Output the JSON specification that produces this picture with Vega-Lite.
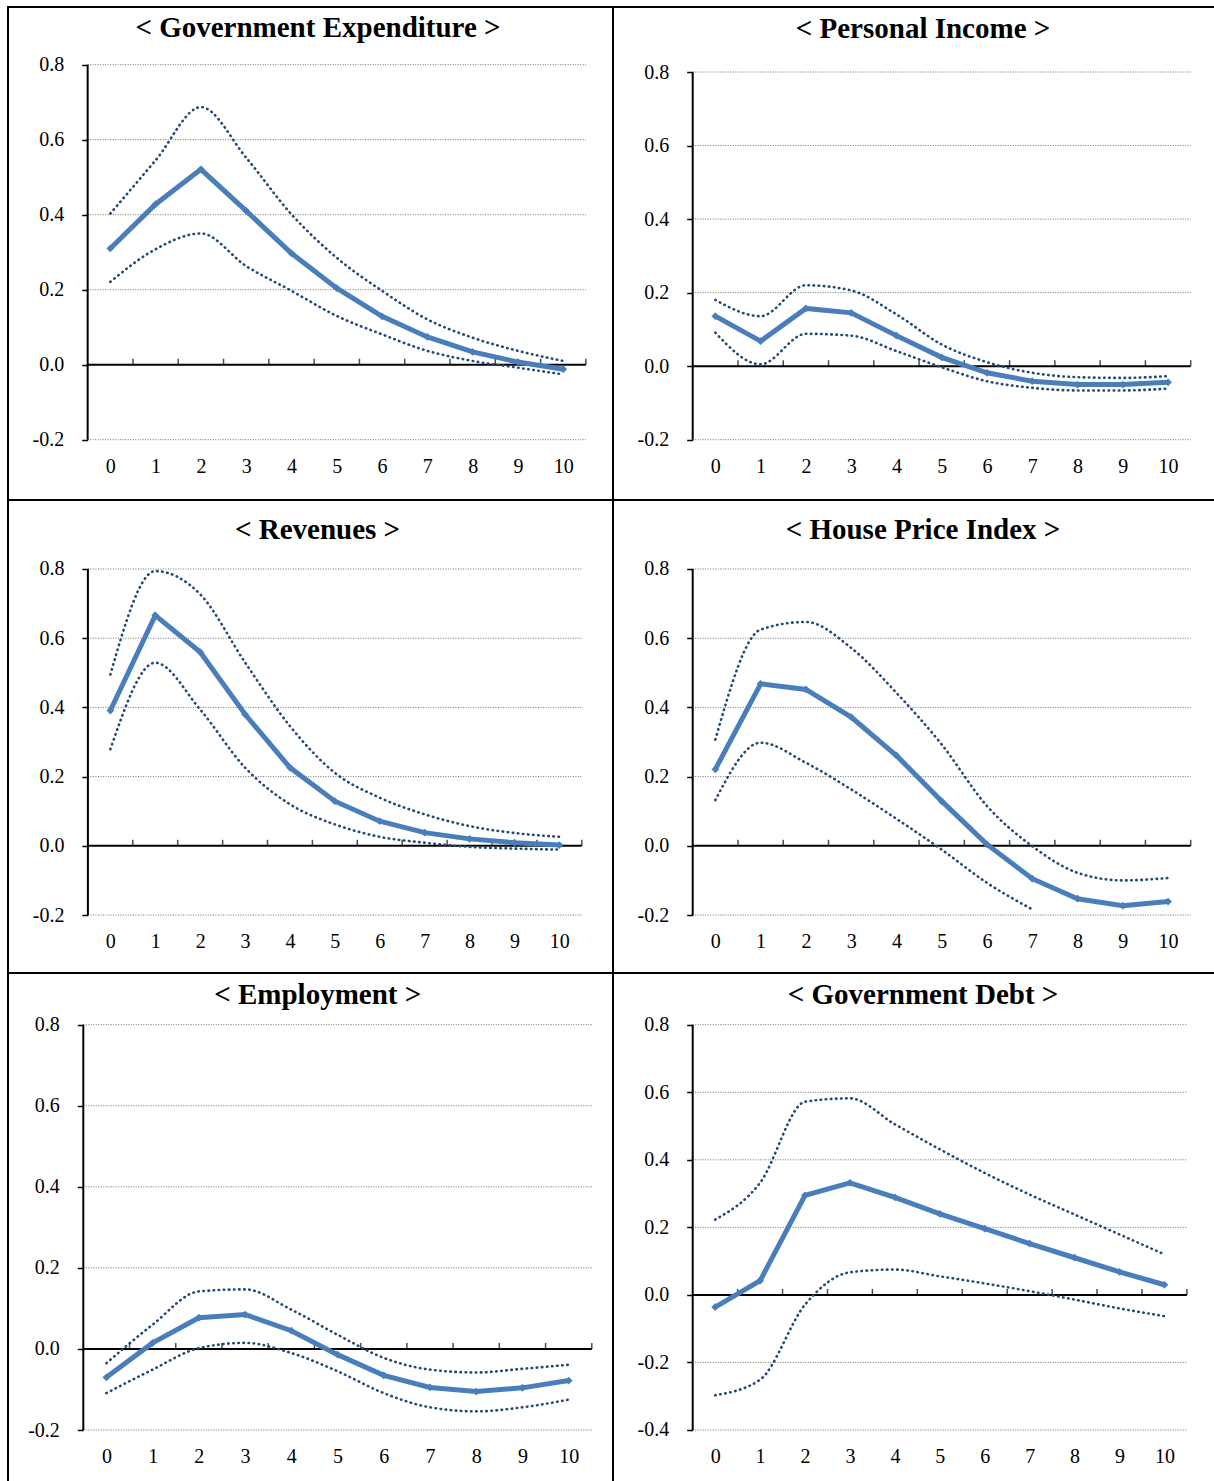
{
  "$schema": "https://vega.github.io/schema/vega-lite/v6.json",
  "padding": {"left": 7, "top": 6, "right": 0, "bottom": 0},
  "autosize": {"type": "pad"},
  "bounds": "flush",
  "spacing": 0,
  "columns": 2,
  "datasets": {
    "grid": [{"g": -0.4}, {"g": -0.2}, {"g": 0.2}, {"g": 0.4}, {"g": 0.6}, {"g": 0.8}],
    "bnd": [{"b": 0.5}, {"b": 1.5}, {"b": 2.5}, {"b": 3.5}, {"b": 4.5}, {"b": 5.5}, {"b": 6.5}, {"b": 7.5}, {"b": 8.5}, {"b": 9.5}, {"b": 10.5}],
    "irf": [
      {"p": "ge", "h": 0, "resp": 0.310, "lo": 0.221, "hi": 0.403},
      {"p": "ge", "h": 1, "resp": 0.428, "lo": 0.308, "hi": 0.545},
      {"p": "ge", "h": 2, "resp": 0.521, "lo": 0.350, "hi": 0.687},
      {"p": "ge", "h": 3, "resp": 0.410, "lo": 0.263, "hi": 0.552},
      {"p": "ge", "h": 4, "resp": 0.297, "lo": 0.197, "hi": 0.401},
      {"p": "ge", "h": 5, "resp": 0.204, "lo": 0.130, "hi": 0.285},
      {"p": "ge", "h": 6, "resp": 0.129, "lo": 0.081, "hi": 0.197},
      {"p": "ge", "h": 7, "resp": 0.074, "lo": 0.037, "hi": 0.121},
      {"p": "ge", "h": 8, "resp": 0.034, "lo": 0.010, "hi": 0.072},
      {"p": "ge", "h": 9, "resp": 0.007, "lo": -0.008, "hi": 0.037},
      {"p": "ge", "h": 10, "resp": -0.012, "lo": -0.026, "hi": 0.010},
      {"p": "pi", "h": 0, "resp": 0.136, "lo": 0.091, "hi": 0.180},
      {"p": "pi", "h": 1, "resp": 0.068, "lo": 0.005, "hi": 0.136},
      {"p": "pi", "h": 2, "resp": 0.157, "lo": 0.088, "hi": 0.220},
      {"p": "pi", "h": 3, "resp": 0.145, "lo": 0.083, "hi": 0.206},
      {"p": "pi", "h": 4, "resp": 0.083, "lo": 0.041, "hi": 0.141},
      {"p": "pi", "h": 5, "resp": 0.024, "lo": -0.003, "hi": 0.059},
      {"p": "pi", "h": 6, "resp": -0.018, "lo": -0.041, "hi": 0.011},
      {"p": "pi", "h": 7, "resp": -0.041, "lo": -0.059, "hi": -0.018},
      {"p": "pi", "h": 8, "resp": -0.050, "lo": -0.066, "hi": -0.030},
      {"p": "pi", "h": 9, "resp": -0.050, "lo": -0.066, "hi": -0.032},
      {"p": "pi", "h": 10, "resp": -0.044, "lo": -0.061, "hi": -0.027},
      {"p": "rev", "h": 0, "resp": 0.391, "lo": 0.279, "hi": 0.495},
      {"p": "rev", "h": 1, "resp": 0.666, "lo": 0.529, "hi": 0.794},
      {"p": "rev", "h": 2, "resp": 0.560, "lo": 0.394, "hi": 0.727},
      {"p": "rev", "h": 3, "resp": 0.380, "lo": 0.226, "hi": 0.530},
      {"p": "rev", "h": 4, "resp": 0.226, "lo": 0.120, "hi": 0.346},
      {"p": "rev", "h": 5, "resp": 0.129, "lo": 0.062, "hi": 0.211},
      {"p": "rev", "h": 6, "resp": 0.071, "lo": 0.026, "hi": 0.139},
      {"p": "rev", "h": 7, "resp": 0.038, "lo": 0.009, "hi": 0.091},
      {"p": "rev", "h": 8, "resp": 0.020, "lo": -0.003, "hi": 0.057},
      {"p": "rev", "h": 9, "resp": 0.009, "lo": -0.008, "hi": 0.037},
      {"p": "rev", "h": 10, "resp": 0.002, "lo": -0.011, "hi": 0.026},
      {"p": "hpi", "h": 0, "resp": 0.221, "lo": 0.132, "hi": 0.307},
      {"p": "hpi", "h": 1, "resp": 0.468, "lo": 0.298, "hi": 0.625},
      {"p": "hpi", "h": 2, "resp": 0.452, "lo": 0.240, "hi": 0.647},
      {"p": "hpi", "h": 3, "resp": 0.372, "lo": 0.163, "hi": 0.572},
      {"p": "hpi", "h": 4, "resp": 0.261, "lo": 0.078, "hi": 0.442},
      {"p": "hpi", "h": 5, "resp": 0.129, "lo": -0.011, "hi": 0.293},
      {"p": "hpi", "h": 6, "resp": 0.004, "lo": -0.107, "hi": 0.115},
      {"p": "hpi", "h": 7, "resp": -0.095, "lo": -0.184, "hi": -0.001},
      {"p": "hpi", "h": 8, "resp": -0.153, "lo": null, "hi": -0.078},
      {"p": "hpi", "h": 9, "resp": -0.173, "lo": null, "hi": -0.100},
      {"p": "hpi", "h": 10, "resp": -0.161, "lo": null, "hi": -0.093},
      {"p": "emp", "h": 0, "resp": -0.070, "lo": -0.109, "hi": -0.035},
      {"p": "emp", "h": 1, "resp": 0.015, "lo": -0.051, "hi": 0.060},
      {"p": "emp", "h": 2, "resp": 0.077, "lo": 0.002, "hi": 0.142},
      {"p": "emp", "h": 3, "resp": 0.085, "lo": 0.015, "hi": 0.147},
      {"p": "emp", "h": 4, "resp": 0.045, "lo": -0.010, "hi": 0.097},
      {"p": "emp", "h": 5, "resp": -0.014, "lo": -0.055, "hi": 0.035},
      {"p": "emp", "h": 6, "resp": -0.065, "lo": -0.109, "hi": -0.022},
      {"p": "emp", "h": 7, "resp": -0.095, "lo": -0.144, "hi": -0.051},
      {"p": "emp", "h": 8, "resp": -0.105, "lo": -0.154, "hi": -0.058},
      {"p": "emp", "h": 9, "resp": -0.096, "lo": -0.144, "hi": -0.049},
      {"p": "emp", "h": 10, "resp": -0.078, "lo": -0.125, "hi": -0.039},
      {"p": "debt", "h": 0, "resp": -0.036, "lo": -0.297, "hi": 0.223},
      {"p": "debt", "h": 1, "resp": 0.042, "lo": -0.251, "hi": 0.332},
      {"p": "debt", "h": 2, "resp": 0.295, "lo": -0.029, "hi": 0.572},
      {"p": "debt", "h": 3, "resp": 0.332, "lo": 0.067, "hi": 0.582},
      {"p": "debt", "h": 4, "resp": 0.289, "lo": 0.075, "hi": 0.505},
      {"p": "debt", "h": 5, "resp": 0.240, "lo": 0.055, "hi": 0.431},
      {"p": "debt", "h": 6, "resp": 0.196, "lo": 0.034, "hi": 0.361},
      {"p": "debt", "h": 7, "resp": 0.152, "lo": 0.011, "hi": 0.297},
      {"p": "debt", "h": 8, "resp": 0.110, "lo": -0.014, "hi": 0.238},
      {"p": "debt", "h": 9, "resp": 0.068, "lo": -0.040, "hi": 0.179},
      {"p": "debt", "h": 10, "resp": 0.030, "lo": -0.063, "hi": 0.120}
    ]
  },
  "concat": [
    {
      "width": 605, "height": 493,
      "title": {"text": "< Government Expenditure >", "dx": 7.5, "offset": -36.2},
      "layer": [
        {"data": {"name": "grid"}, "transform": [{"filter": "datum.g >= -0.2"}],
         "mark": {"type": "rule", "color": "#6e6e6e", "strokeWidth": 1, "strokeDash": [1, 1.5]},
         "encoding": {
           "x": {"datum": -0.5, "type": "quantitative", "scale": {"domain": [-2.2585, 11.0983], "nice": false, "zero": false}, "axis": {"values": [0,1,2,3,4,5,6,7,8,9,10], "format": "d", "offset": -34, "title": null}},
           "x2": {"datum": 10.5},
           "y": {"field": "g", "type": "quantitative", "scale": {"domain": [-0.3608, 0.9539], "nice": false, "zero": false}, "axis": {"values": [-0.2,0,0.2,0.4,0.6,0.8], "offset": -79.65, "title": null, "labelExpr": "datum.value < 0 ? '-' + format(-datum.value, '.1f') : format(datum.value, '.1f')"}}
         }},
        {"data": {"values": [{}]}, "mark": {"type": "rule", "color": "black", "strokeWidth": 2},
         "encoding": {
           "x": {"datum": -0.5, "type": "quantitative", "scale": {"domain": [-2.2585, 11.0983], "nice": false, "zero": false}, "axis": {"values": [0,1,2,3,4,5,6,7,8,9,10], "format": "d", "offset": -34, "title": null}},
           "y": {"datum": -0.2, "type": "quantitative", "scale": {"domain": [-0.3608, 0.9539], "nice": false, "zero": false}, "axis": {"values": [-0.2,0,0.2,0.4,0.6,0.8], "offset": -79.65, "title": null, "labelExpr": "datum.value < 0 ? '-' + format(-datum.value, '.1f') : format(datum.value, '.1f')"}},
           "y2": {"datum": 0.8}
         }},
        {"data": {"values": [{}]}, "mark": {"type": "rule", "color": "black", "strokeWidth": 2},
         "encoding": {
           "x": {"datum": -0.5, "type": "quantitative", "scale": {"domain": [-2.2585, 11.0983], "nice": false, "zero": false}, "axis": {"values": [0,1,2,3,4,5,6,7,8,9,10], "format": "d", "offset": -34, "title": null}},
           "x2": {"datum": 10.5},
           "y": {"datum": 0, "type": "quantitative", "scale": {"domain": [-0.3608, 0.9539], "nice": false, "zero": false}, "axis": {"values": [-0.2,0,0.2,0.4,0.6,0.8], "offset": -79.65, "title": null, "labelExpr": "datum.value < 0 ? '-' + format(-datum.value, '.1f') : format(datum.value, '.1f')"}}
         }},
        {"data": {"name": "bnd"}, "mark": {"type": "tick", "orient": "vertical", "color": "black", "size": 6, "thickness": 1.5, "yOffset": -3},
         "encoding": {
           "x": {"field": "b", "type": "quantitative", "scale": {"domain": [-2.2585, 11.0983], "nice": false, "zero": false}, "axis": {"values": [0,1,2,3,4,5,6,7,8,9,10], "format": "d", "offset": -34, "title": null}},
           "y": {"datum": 0, "type": "quantitative", "scale": {"domain": [-0.3608, 0.9539], "nice": false, "zero": false}, "axis": {"values": [-0.2,0,0.2,0.4,0.6,0.8], "offset": -79.65, "title": null, "labelExpr": "datum.value < 0 ? '-' + format(-datum.value, '.1f') : format(datum.value, '.1f')"}}
         }},
        {"data": {"name": "irf"}, "transform": [{"filter": "datum.p == 'ge'"}],
         "mark": {"type": "line", "color": "#23487A", "strokeWidth": 2.6, "strokeDash": [0.5, 4.6], "strokeCap": "round", "interpolate": "monotone"},
         "encoding": {
           "x": {"field": "h", "type": "quantitative", "scale": {"domain": [-2.2585, 11.0983], "nice": false, "zero": false}, "axis": {"values": [0,1,2,3,4,5,6,7,8,9,10], "format": "d", "offset": -34, "title": null}},
           "y": {"field": "hi", "type": "quantitative", "scale": {"domain": [-0.3608, 0.9539], "nice": false, "zero": false}, "axis": {"values": [-0.2,0,0.2,0.4,0.6,0.8], "offset": -79.65, "title": null, "labelExpr": "datum.value < 0 ? '-' + format(-datum.value, '.1f') : format(datum.value, '.1f')"}}
         }},
        {"data": {"name": "irf"}, "transform": [{"filter": "datum.p == 'ge'"}],
         "mark": {"type": "line", "color": "#23487A", "strokeWidth": 2.6, "strokeDash": [0.5, 4.6], "strokeCap": "round", "interpolate": "monotone"},
         "encoding": {
           "x": {"field": "h", "type": "quantitative", "scale": {"domain": [-2.2585, 11.0983], "nice": false, "zero": false}, "axis": {"values": [0,1,2,3,4,5,6,7,8,9,10], "format": "d", "offset": -34, "title": null}},
           "y": {"field": "lo", "type": "quantitative", "scale": {"domain": [-0.3608, 0.9539], "nice": false, "zero": false}, "axis": {"values": [-0.2,0,0.2,0.4,0.6,0.8], "offset": -79.65, "title": null, "labelExpr": "datum.value < 0 ? '-' + format(-datum.value, '.1f') : format(datum.value, '.1f')"}}
         }},
        {"data": {"name": "irf"}, "transform": [{"filter": "datum.p == 'ge'"}],
         "mark": {"type": "line", "color": "#4A7EBB", "strokeWidth": 5, "point": {"shape": "diamond", "size": 60, "filled": true, "color": "#4A7EBB"}},
         "encoding": {
           "x": {"field": "h", "type": "quantitative", "scale": {"domain": [-2.2585, 11.0983], "nice": false, "zero": false}, "axis": {"values": [0,1,2,3,4,5,6,7,8,9,10], "format": "d", "offset": -34, "title": null}},
           "y": {"field": "resp", "type": "quantitative", "scale": {"domain": [-0.3608, 0.9539], "nice": false, "zero": false}, "axis": {"values": [-0.2,0,0.2,0.4,0.6,0.8], "offset": -79.65, "title": null, "labelExpr": "datum.value < 0 ? '-' + format(-datum.value, '.1f') : format(datum.value, '.1f')"}}
         }}
      ]
    },
    {
      "width": 605, "height": 493,
      "title": {"text": "< Personal Income >", "dx": 7.5, "offset": -36.5},
      "layer": [
        {"data": {"name": "grid"}, "transform": [{"filter": "datum.g >= -0.2"}],
         "mark": {"type": "rule", "color": "#6e6e6e", "strokeWidth": 1, "strokeDash": [1, 1.5]},
         "encoding": {
           "x": {"datum": -0.5, "type": "quantitative", "scale": {"domain": [-2.2604, 11.103], "nice": false, "zero": false}, "axis": {"values": [0,1,2,3,4,5,6,7,8,9,10], "format": "d", "offset": -34, "title": null}},
           "x2": {"datum": 10.5},
           "y": {"field": "g", "type": "quantitative", "scale": {"domain": [-0.364, 0.9768], "nice": false, "zero": false}, "axis": {"values": [-0.2,0,0.2,0.4,0.6,0.8], "offset": -79.7, "title": null, "labelExpr": "datum.value < 0 ? '-' + format(-datum.value, '.1f') : format(datum.value, '.1f')"}}
         }},
        {"data": {"values": [{}]}, "mark": {"type": "rule", "color": "black", "strokeWidth": 2},
         "encoding": {
           "x": {"datum": -0.5, "type": "quantitative", "scale": {"domain": [-2.2604, 11.103], "nice": false, "zero": false}, "axis": {"values": [0,1,2,3,4,5,6,7,8,9,10], "format": "d", "offset": -34, "title": null}},
           "y": {"datum": -0.2, "type": "quantitative", "scale": {"domain": [-0.364, 0.9768], "nice": false, "zero": false}, "axis": {"values": [-0.2,0,0.2,0.4,0.6,0.8], "offset": -79.7, "title": null, "labelExpr": "datum.value < 0 ? '-' + format(-datum.value, '.1f') : format(datum.value, '.1f')"}},
           "y2": {"datum": 0.8}
         }},
        {"data": {"values": [{}]}, "mark": {"type": "rule", "color": "black", "strokeWidth": 2},
         "encoding": {
           "x": {"datum": -0.5, "type": "quantitative", "scale": {"domain": [-2.2604, 11.103], "nice": false, "zero": false}, "axis": {"values": [0,1,2,3,4,5,6,7,8,9,10], "format": "d", "offset": -34, "title": null}},
           "x2": {"datum": 10.5},
           "y": {"datum": 0, "type": "quantitative", "scale": {"domain": [-0.364, 0.9768], "nice": false, "zero": false}, "axis": {"values": [-0.2,0,0.2,0.4,0.6,0.8], "offset": -79.7, "title": null, "labelExpr": "datum.value < 0 ? '-' + format(-datum.value, '.1f') : format(datum.value, '.1f')"}}
         }},
        {"data": {"name": "bnd"}, "mark": {"type": "tick", "orient": "vertical", "color": "black", "size": 6, "thickness": 1.5, "yOffset": -3},
         "encoding": {
           "x": {"field": "b", "type": "quantitative", "scale": {"domain": [-2.2604, 11.103], "nice": false, "zero": false}, "axis": {"values": [0,1,2,3,4,5,6,7,8,9,10], "format": "d", "offset": -34, "title": null}},
           "y": {"datum": 0, "type": "quantitative", "scale": {"domain": [-0.364, 0.9768], "nice": false, "zero": false}, "axis": {"values": [-0.2,0,0.2,0.4,0.6,0.8], "offset": -79.7, "title": null, "labelExpr": "datum.value < 0 ? '-' + format(-datum.value, '.1f') : format(datum.value, '.1f')"}}
         }},
        {"data": {"name": "irf"}, "transform": [{"filter": "datum.p == 'pi'"}],
         "mark": {"type": "line", "color": "#23487A", "strokeWidth": 2.6, "strokeDash": [0.5, 4.6], "strokeCap": "round", "interpolate": "monotone"},
         "encoding": {
           "x": {"field": "h", "type": "quantitative", "scale": {"domain": [-2.2604, 11.103], "nice": false, "zero": false}, "axis": {"values": [0,1,2,3,4,5,6,7,8,9,10], "format": "d", "offset": -34, "title": null}},
           "y": {"field": "hi", "type": "quantitative", "scale": {"domain": [-0.364, 0.9768], "nice": false, "zero": false}, "axis": {"values": [-0.2,0,0.2,0.4,0.6,0.8], "offset": -79.7, "title": null, "labelExpr": "datum.value < 0 ? '-' + format(-datum.value, '.1f') : format(datum.value, '.1f')"}}
         }},
        {"data": {"name": "irf"}, "transform": [{"filter": "datum.p == 'pi'"}],
         "mark": {"type": "line", "color": "#23487A", "strokeWidth": 2.6, "strokeDash": [0.5, 4.6], "strokeCap": "round", "interpolate": "monotone"},
         "encoding": {
           "x": {"field": "h", "type": "quantitative", "scale": {"domain": [-2.2604, 11.103], "nice": false, "zero": false}, "axis": {"values": [0,1,2,3,4,5,6,7,8,9,10], "format": "d", "offset": -34, "title": null}},
           "y": {"field": "lo", "type": "quantitative", "scale": {"domain": [-0.364, 0.9768], "nice": false, "zero": false}, "axis": {"values": [-0.2,0,0.2,0.4,0.6,0.8], "offset": -79.7, "title": null, "labelExpr": "datum.value < 0 ? '-' + format(-datum.value, '.1f') : format(datum.value, '.1f')"}}
         }},
        {"data": {"name": "irf"}, "transform": [{"filter": "datum.p == 'pi'"}],
         "mark": {"type": "line", "color": "#4A7EBB", "strokeWidth": 5, "point": {"shape": "diamond", "size": 60, "filled": true, "color": "#4A7EBB"}},
         "encoding": {
           "x": {"field": "h", "type": "quantitative", "scale": {"domain": [-2.2604, 11.103], "nice": false, "zero": false}, "axis": {"values": [0,1,2,3,4,5,6,7,8,9,10], "format": "d", "offset": -34, "title": null}},
           "y": {"field": "resp", "type": "quantitative", "scale": {"domain": [-0.364, 0.9768], "nice": false, "zero": false}, "axis": {"values": [-0.2,0,0.2,0.4,0.6,0.8], "offset": -79.7, "title": null, "labelExpr": "datum.value < 0 ? '-' + format(-datum.value, '.1f') : format(datum.value, '.1f')"}}
         }}
      ]
    },
    {
      "width": 605, "height": 473,
      "title": {"text": "< Revenues >", "dx": 7, "offset": -44.5},
      "layer": [
        {"data": {"name": "grid"}, "transform": [{"filter": "datum.g >= -0.2"}],
         "mark": {"type": "rule", "color": "#6e6e6e", "strokeWidth": 1, "strokeDash": [1, 1.5]},
         "encoding": {
           "x": {"datum": -0.5, "type": "quantitative", "scale": {"domain": [-2.2795, 11.1949], "nice": false, "zero": false}, "axis": {"values": [0,1,2,3,4,5,6,7,8,9,10], "format": "d", "offset": -32, "title": null}},
           "x2": {"datum": 10.5},
           "y": {"field": "g", "type": "quantitative", "scale": {"domain": [-0.3676, 0.9994], "nice": false, "zero": false}, "axis": {"values": [-0.2,0,0.2,0.4,0.6,0.8], "offset": -79.9, "title": null, "labelExpr": "datum.value < 0 ? '-' + format(-datum.value, '.1f') : format(datum.value, '.1f')"}}
         }},
        {"data": {"values": [{}]}, "mark": {"type": "rule", "color": "black", "strokeWidth": 2},
         "encoding": {
           "x": {"datum": -0.5, "type": "quantitative", "scale": {"domain": [-2.2795, 11.1949], "nice": false, "zero": false}, "axis": {"values": [0,1,2,3,4,5,6,7,8,9,10], "format": "d", "offset": -32, "title": null}},
           "y": {"datum": -0.2, "type": "quantitative", "scale": {"domain": [-0.3676, 0.9994], "nice": false, "zero": false}, "axis": {"values": [-0.2,0,0.2,0.4,0.6,0.8], "offset": -79.9, "title": null, "labelExpr": "datum.value < 0 ? '-' + format(-datum.value, '.1f') : format(datum.value, '.1f')"}},
           "y2": {"datum": 0.8}
         }},
        {"data": {"values": [{}]}, "mark": {"type": "rule", "color": "black", "strokeWidth": 2},
         "encoding": {
           "x": {"datum": -0.5, "type": "quantitative", "scale": {"domain": [-2.2795, 11.1949], "nice": false, "zero": false}, "axis": {"values": [0,1,2,3,4,5,6,7,8,9,10], "format": "d", "offset": -32, "title": null}},
           "x2": {"datum": 10.5},
           "y": {"datum": 0, "type": "quantitative", "scale": {"domain": [-0.3676, 0.9994], "nice": false, "zero": false}, "axis": {"values": [-0.2,0,0.2,0.4,0.6,0.8], "offset": -79.9, "title": null, "labelExpr": "datum.value < 0 ? '-' + format(-datum.value, '.1f') : format(datum.value, '.1f')"}}
         }},
        {"data": {"name": "bnd"}, "mark": {"type": "tick", "orient": "vertical", "color": "black", "size": 6, "thickness": 1.5, "yOffset": -3},
         "encoding": {
           "x": {"field": "b", "type": "quantitative", "scale": {"domain": [-2.2795, 11.1949], "nice": false, "zero": false}, "axis": {"values": [0,1,2,3,4,5,6,7,8,9,10], "format": "d", "offset": -32, "title": null}},
           "y": {"datum": 0, "type": "quantitative", "scale": {"domain": [-0.3676, 0.9994], "nice": false, "zero": false}, "axis": {"values": [-0.2,0,0.2,0.4,0.6,0.8], "offset": -79.9, "title": null, "labelExpr": "datum.value < 0 ? '-' + format(-datum.value, '.1f') : format(datum.value, '.1f')"}}
         }},
        {"data": {"name": "irf"}, "transform": [{"filter": "datum.p == 'rev'"}],
         "mark": {"type": "line", "color": "#23487A", "strokeWidth": 2.6, "strokeDash": [0.5, 4.6], "strokeCap": "round", "interpolate": "monotone"},
         "encoding": {
           "x": {"field": "h", "type": "quantitative", "scale": {"domain": [-2.2795, 11.1949], "nice": false, "zero": false}, "axis": {"values": [0,1,2,3,4,5,6,7,8,9,10], "format": "d", "offset": -32, "title": null}},
           "y": {"field": "hi", "type": "quantitative", "scale": {"domain": [-0.3676, 0.9994], "nice": false, "zero": false}, "axis": {"values": [-0.2,0,0.2,0.4,0.6,0.8], "offset": -79.9, "title": null, "labelExpr": "datum.value < 0 ? '-' + format(-datum.value, '.1f') : format(datum.value, '.1f')"}}
         }},
        {"data": {"name": "irf"}, "transform": [{"filter": "datum.p == 'rev'"}],
         "mark": {"type": "line", "color": "#23487A", "strokeWidth": 2.6, "strokeDash": [0.5, 4.6], "strokeCap": "round", "interpolate": "monotone"},
         "encoding": {
           "x": {"field": "h", "type": "quantitative", "scale": {"domain": [-2.2795, 11.1949], "nice": false, "zero": false}, "axis": {"values": [0,1,2,3,4,5,6,7,8,9,10], "format": "d", "offset": -32, "title": null}},
           "y": {"field": "lo", "type": "quantitative", "scale": {"domain": [-0.3676, 0.9994], "nice": false, "zero": false}, "axis": {"values": [-0.2,0,0.2,0.4,0.6,0.8], "offset": -79.9, "title": null, "labelExpr": "datum.value < 0 ? '-' + format(-datum.value, '.1f') : format(datum.value, '.1f')"}}
         }},
        {"data": {"name": "irf"}, "transform": [{"filter": "datum.p == 'rev'"}],
         "mark": {"type": "line", "color": "#4A7EBB", "strokeWidth": 5, "point": {"shape": "diamond", "size": 60, "filled": true, "color": "#4A7EBB"}},
         "encoding": {
           "x": {"field": "h", "type": "quantitative", "scale": {"domain": [-2.2795, 11.1949], "nice": false, "zero": false}, "axis": {"values": [0,1,2,3,4,5,6,7,8,9,10], "format": "d", "offset": -32, "title": null}},
           "y": {"field": "resp", "type": "quantitative", "scale": {"domain": [-0.3676, 0.9994], "nice": false, "zero": false}, "axis": {"values": [-0.2,0,0.2,0.4,0.6,0.8], "offset": -79.9, "title": null, "labelExpr": "datum.value < 0 ? '-' + format(-datum.value, '.1f') : format(datum.value, '.1f')"}}
         }}
      ]
    },
    {
      "width": 605, "height": 473,
      "title": {"text": "< House Price Index >", "dx": 7.5, "offset": -44.5},
      "layer": [
        {"data": {"name": "grid"}, "transform": [{"filter": "datum.g >= -0.2"}],
         "mark": {"type": "rule", "color": "#6e6e6e", "strokeWidth": 1, "strokeDash": [1, 1.5]},
         "encoding": {
           "x": {"datum": -0.5, "type": "quantitative", "scale": {"domain": [-2.2604, 11.103], "nice": false, "zero": false}, "axis": {"values": [0,1,2,3,4,5,6,7,8,9,10], "format": "d", "offset": -32, "title": null}},
           "x2": {"datum": 10.5},
           "y": {"field": "g", "type": "quantitative", "scale": {"domain": [-0.3676, 0.9994], "nice": false, "zero": false}, "axis": {"values": [-0.2,0,0.2,0.4,0.6,0.8], "offset": -79.7, "title": null, "labelExpr": "datum.value < 0 ? '-' + format(-datum.value, '.1f') : format(datum.value, '.1f')"}}
         }},
        {"data": {"values": [{}]}, "mark": {"type": "rule", "color": "black", "strokeWidth": 2},
         "encoding": {
           "x": {"datum": -0.5, "type": "quantitative", "scale": {"domain": [-2.2604, 11.103], "nice": false, "zero": false}, "axis": {"values": [0,1,2,3,4,5,6,7,8,9,10], "format": "d", "offset": -32, "title": null}},
           "y": {"datum": -0.2, "type": "quantitative", "scale": {"domain": [-0.3676, 0.9994], "nice": false, "zero": false}, "axis": {"values": [-0.2,0,0.2,0.4,0.6,0.8], "offset": -79.7, "title": null, "labelExpr": "datum.value < 0 ? '-' + format(-datum.value, '.1f') : format(datum.value, '.1f')"}},
           "y2": {"datum": 0.8}
         }},
        {"data": {"values": [{}]}, "mark": {"type": "rule", "color": "black", "strokeWidth": 2},
         "encoding": {
           "x": {"datum": -0.5, "type": "quantitative", "scale": {"domain": [-2.2604, 11.103], "nice": false, "zero": false}, "axis": {"values": [0,1,2,3,4,5,6,7,8,9,10], "format": "d", "offset": -32, "title": null}},
           "x2": {"datum": 10.5},
           "y": {"datum": 0, "type": "quantitative", "scale": {"domain": [-0.3676, 0.9994], "nice": false, "zero": false}, "axis": {"values": [-0.2,0,0.2,0.4,0.6,0.8], "offset": -79.7, "title": null, "labelExpr": "datum.value < 0 ? '-' + format(-datum.value, '.1f') : format(datum.value, '.1f')"}}
         }},
        {"data": {"name": "bnd"}, "mark": {"type": "tick", "orient": "vertical", "color": "black", "size": 6, "thickness": 1.5, "yOffset": -3},
         "encoding": {
           "x": {"field": "b", "type": "quantitative", "scale": {"domain": [-2.2604, 11.103], "nice": false, "zero": false}, "axis": {"values": [0,1,2,3,4,5,6,7,8,9,10], "format": "d", "offset": -32, "title": null}},
           "y": {"datum": 0, "type": "quantitative", "scale": {"domain": [-0.3676, 0.9994], "nice": false, "zero": false}, "axis": {"values": [-0.2,0,0.2,0.4,0.6,0.8], "offset": -79.7, "title": null, "labelExpr": "datum.value < 0 ? '-' + format(-datum.value, '.1f') : format(datum.value, '.1f')"}}
         }},
        {"data": {"name": "irf"}, "transform": [{"filter": "datum.p == 'hpi'"}],
         "mark": {"type": "line", "color": "#23487A", "strokeWidth": 2.6, "strokeDash": [0.5, 4.6], "strokeCap": "round", "interpolate": "monotone"},
         "encoding": {
           "x": {"field": "h", "type": "quantitative", "scale": {"domain": [-2.2604, 11.103], "nice": false, "zero": false}, "axis": {"values": [0,1,2,3,4,5,6,7,8,9,10], "format": "d", "offset": -32, "title": null}},
           "y": {"field": "hi", "type": "quantitative", "scale": {"domain": [-0.3676, 0.9994], "nice": false, "zero": false}, "axis": {"values": [-0.2,0,0.2,0.4,0.6,0.8], "offset": -79.7, "title": null, "labelExpr": "datum.value < 0 ? '-' + format(-datum.value, '.1f') : format(datum.value, '.1f')"}}
         }},
        {"data": {"name": "irf"}, "transform": [{"filter": "datum.p == 'hpi' && datum.lo != null"}],
         "mark": {"type": "line", "color": "#23487A", "strokeWidth": 2.6, "strokeDash": [0.5, 4.6], "strokeCap": "round", "interpolate": "monotone"},
         "encoding": {
           "x": {"field": "h", "type": "quantitative", "scale": {"domain": [-2.2604, 11.103], "nice": false, "zero": false}, "axis": {"values": [0,1,2,3,4,5,6,7,8,9,10], "format": "d", "offset": -32, "title": null}},
           "y": {"field": "lo", "type": "quantitative", "scale": {"domain": [-0.3676, 0.9994], "nice": false, "zero": false}, "axis": {"values": [-0.2,0,0.2,0.4,0.6,0.8], "offset": -79.7, "title": null, "labelExpr": "datum.value < 0 ? '-' + format(-datum.value, '.1f') : format(datum.value, '.1f')"}}
         }},
        {"data": {"name": "irf"}, "transform": [{"filter": "datum.p == 'hpi'"}],
         "mark": {"type": "line", "color": "#4A7EBB", "strokeWidth": 5, "point": {"shape": "diamond", "size": 60, "filled": true, "color": "#4A7EBB"}},
         "encoding": {
           "x": {"field": "h", "type": "quantitative", "scale": {"domain": [-2.2604, 11.103], "nice": false, "zero": false}, "axis": {"values": [0,1,2,3,4,5,6,7,8,9,10], "format": "d", "offset": -32, "title": null}},
           "y": {"field": "resp", "type": "quantitative", "scale": {"domain": [-0.3676, 0.9994], "nice": false, "zero": false}, "axis": {"values": [-0.2,0,0.2,0.4,0.6,0.8], "offset": -79.7, "title": null, "labelExpr": "datum.value < 0 ? '-' + format(-datum.value, '.1f') : format(datum.value, '.1f')"}}
         }}
      ]
    },
    {
      "width": 605, "height": 514,
      "title": {"text": "< Employment >", "dx": 7.2, "offset": -36.8},
      "layer": [
        {"data": {"name": "grid"}, "transform": [{"filter": "datum.g >= -0.2"}],
         "mark": {"type": "rule", "color": "#6e6e6e", "strokeWidth": 1, "strokeDash": [1, 1.5]},
         "encoding": {
           "x": {"datum": -0.5, "type": "quantitative", "scale": {"domain": [-2.1289, 10.9586], "nice": false, "zero": false}, "axis": {"values": [0,1,2,3,4,5,6,7,8,9,10], "format": "d", "offset": -31, "title": null}},
           "x2": {"datum": 10.5},
           "y": {"field": "g", "type": "quantitative", "scale": {"domain": [-0.3406, 0.9276], "nice": false, "zero": false}, "axis": {"values": [-0.2,0,0.2,0.4,0.6,0.8], "offset": -75.3, "title": null, "labelExpr": "datum.value < 0 ? '-' + format(-datum.value, '.1f') : format(datum.value, '.1f')"}}
         }},
        {"data": {"values": [{}]}, "mark": {"type": "rule", "color": "black", "strokeWidth": 2},
         "encoding": {
           "x": {"datum": -0.5, "type": "quantitative", "scale": {"domain": [-2.1289, 10.9586], "nice": false, "zero": false}, "axis": {"values": [0,1,2,3,4,5,6,7,8,9,10], "format": "d", "offset": -31, "title": null}},
           "y": {"datum": -0.2, "type": "quantitative", "scale": {"domain": [-0.3406, 0.9276], "nice": false, "zero": false}, "axis": {"values": [-0.2,0,0.2,0.4,0.6,0.8], "offset": -75.3, "title": null, "labelExpr": "datum.value < 0 ? '-' + format(-datum.value, '.1f') : format(datum.value, '.1f')"}},
           "y2": {"datum": 0.8}
         }},
        {"data": {"values": [{}]}, "mark": {"type": "rule", "color": "black", "strokeWidth": 2},
         "encoding": {
           "x": {"datum": -0.5, "type": "quantitative", "scale": {"domain": [-2.1289, 10.9586], "nice": false, "zero": false}, "axis": {"values": [0,1,2,3,4,5,6,7,8,9,10], "format": "d", "offset": -31, "title": null}},
           "x2": {"datum": 10.5},
           "y": {"datum": 0, "type": "quantitative", "scale": {"domain": [-0.3406, 0.9276], "nice": false, "zero": false}, "axis": {"values": [-0.2,0,0.2,0.4,0.6,0.8], "offset": -75.3, "title": null, "labelExpr": "datum.value < 0 ? '-' + format(-datum.value, '.1f') : format(datum.value, '.1f')"}}
         }},
        {"data": {"name": "bnd"}, "mark": {"type": "tick", "orient": "vertical", "color": "black", "size": 6, "thickness": 1.5, "yOffset": -3},
         "encoding": {
           "x": {"field": "b", "type": "quantitative", "scale": {"domain": [-2.1289, 10.9586], "nice": false, "zero": false}, "axis": {"values": [0,1,2,3,4,5,6,7,8,9,10], "format": "d", "offset": -31, "title": null}},
           "y": {"datum": 0, "type": "quantitative", "scale": {"domain": [-0.3406, 0.9276], "nice": false, "zero": false}, "axis": {"values": [-0.2,0,0.2,0.4,0.6,0.8], "offset": -75.3, "title": null, "labelExpr": "datum.value < 0 ? '-' + format(-datum.value, '.1f') : format(datum.value, '.1f')"}}
         }},
        {"data": {"name": "irf"}, "transform": [{"filter": "datum.p == 'emp'"}],
         "mark": {"type": "line", "color": "#23487A", "strokeWidth": 2.6, "strokeDash": [0.5, 4.6], "strokeCap": "round", "interpolate": "monotone"},
         "encoding": {
           "x": {"field": "h", "type": "quantitative", "scale": {"domain": [-2.1289, 10.9586], "nice": false, "zero": false}, "axis": {"values": [0,1,2,3,4,5,6,7,8,9,10], "format": "d", "offset": -31, "title": null}},
           "y": {"field": "hi", "type": "quantitative", "scale": {"domain": [-0.3406, 0.9276], "nice": false, "zero": false}, "axis": {"values": [-0.2,0,0.2,0.4,0.6,0.8], "offset": -75.3, "title": null, "labelExpr": "datum.value < 0 ? '-' + format(-datum.value, '.1f') : format(datum.value, '.1f')"}}
         }},
        {"data": {"name": "irf"}, "transform": [{"filter": "datum.p == 'emp'"}],
         "mark": {"type": "line", "color": "#23487A", "strokeWidth": 2.6, "strokeDash": [0.5, 4.6], "strokeCap": "round", "interpolate": "monotone"},
         "encoding": {
           "x": {"field": "h", "type": "quantitative", "scale": {"domain": [-2.1289, 10.9586], "nice": false, "zero": false}, "axis": {"values": [0,1,2,3,4,5,6,7,8,9,10], "format": "d", "offset": -31, "title": null}},
           "y": {"field": "lo", "type": "quantitative", "scale": {"domain": [-0.3406, 0.9276], "nice": false, "zero": false}, "axis": {"values": [-0.2,0,0.2,0.4,0.6,0.8], "offset": -75.3, "title": null, "labelExpr": "datum.value < 0 ? '-' + format(-datum.value, '.1f') : format(datum.value, '.1f')"}}
         }},
        {"data": {"name": "irf"}, "transform": [{"filter": "datum.p == 'emp'"}],
         "mark": {"type": "line", "color": "#4A7EBB", "strokeWidth": 5, "point": {"shape": "diamond", "size": 60, "filled": true, "color": "#4A7EBB"}},
         "encoding": {
           "x": {"field": "h", "type": "quantitative", "scale": {"domain": [-2.1289, 10.9586], "nice": false, "zero": false}, "axis": {"values": [0,1,2,3,4,5,6,7,8,9,10], "format": "d", "offset": -31, "title": null}},
           "y": {"field": "resp", "type": "quantitative", "scale": {"domain": [-0.3406, 0.9276], "nice": false, "zero": false}, "axis": {"values": [-0.2,0,0.2,0.4,0.6,0.8], "offset": -75.3, "title": null, "labelExpr": "datum.value < 0 ? '-' + format(-datum.value, '.1f') : format(datum.value, '.1f')"}}
         }}
      ]
    },
    {
      "width": 605, "height": 514,
      "title": {"text": "< Government Debt >", "dx": 7.5, "offset": -36.5},
      "layer": [
        {"data": {"name": "grid"},
         "mark": {"type": "rule", "color": "#6e6e6e", "strokeWidth": 1, "strokeDash": [1, 1.5]},
         "encoding": {
           "x": {"datum": -0.5, "type": "quantitative", "scale": {"domain": [-2.274, 11.192], "nice": false, "zero": false}, "axis": {"values": [0,1,2,3,4,5,6,7,8,9,10], "format": "d", "offset": -31, "title": null}},
           "x2": {"datum": 10.5},
           "y": {"field": "g", "type": "quantitative", "scale": {"domain": [-0.5688, 0.9531], "nice": false, "zero": false}, "axis": {"values": [-0.4,-0.2,0,0.2,0.4,0.6,0.8], "offset": -79.7, "title": null, "labelExpr": "datum.value < 0 ? '-' + format(-datum.value, '.1f') : format(datum.value, '.1f')"}}
         }},
        {"data": {"values": [{}]}, "mark": {"type": "rule", "color": "black", "strokeWidth": 2},
         "encoding": {
           "x": {"datum": -0.5, "type": "quantitative", "scale": {"domain": [-2.274, 11.192], "nice": false, "zero": false}, "axis": {"values": [0,1,2,3,4,5,6,7,8,9,10], "format": "d", "offset": -31, "title": null}},
           "y": {"datum": -0.4, "type": "quantitative", "scale": {"domain": [-0.5688, 0.9531], "nice": false, "zero": false}, "axis": {"values": [-0.4,-0.2,0,0.2,0.4,0.6,0.8], "offset": -79.7, "title": null, "labelExpr": "datum.value < 0 ? '-' + format(-datum.value, '.1f') : format(datum.value, '.1f')"}},
           "y2": {"datum": 0.8}
         }},
        {"data": {"values": [{}]}, "mark": {"type": "rule", "color": "black", "strokeWidth": 2},
         "encoding": {
           "x": {"datum": -0.5, "type": "quantitative", "scale": {"domain": [-2.274, 11.192], "nice": false, "zero": false}, "axis": {"values": [0,1,2,3,4,5,6,7,8,9,10], "format": "d", "offset": -31, "title": null}},
           "x2": {"datum": 10.5},
           "y": {"datum": 0, "type": "quantitative", "scale": {"domain": [-0.5688, 0.9531], "nice": false, "zero": false}, "axis": {"values": [-0.4,-0.2,0,0.2,0.4,0.6,0.8], "offset": -79.7, "title": null, "labelExpr": "datum.value < 0 ? '-' + format(-datum.value, '.1f') : format(datum.value, '.1f')"}}
         }},
        {"data": {"name": "bnd"}, "mark": {"type": "tick", "orient": "vertical", "color": "black", "size": 6, "thickness": 1.5, "yOffset": -3},
         "encoding": {
           "x": {"field": "b", "type": "quantitative", "scale": {"domain": [-2.274, 11.192], "nice": false, "zero": false}, "axis": {"values": [0,1,2,3,4,5,6,7,8,9,10], "format": "d", "offset": -31, "title": null}},
           "y": {"datum": 0, "type": "quantitative", "scale": {"domain": [-0.5688, 0.9531], "nice": false, "zero": false}, "axis": {"values": [-0.4,-0.2,0,0.2,0.4,0.6,0.8], "offset": -79.7, "title": null, "labelExpr": "datum.value < 0 ? '-' + format(-datum.value, '.1f') : format(datum.value, '.1f')"}}
         }},
        {"data": {"name": "irf"}, "transform": [{"filter": "datum.p == 'debt'"}],
         "mark": {"type": "line", "color": "#23487A", "strokeWidth": 2.6, "strokeDash": [0.5, 4.6], "strokeCap": "round", "interpolate": "monotone"},
         "encoding": {
           "x": {"field": "h", "type": "quantitative", "scale": {"domain": [-2.274, 11.192], "nice": false, "zero": false}, "axis": {"values": [0,1,2,3,4,5,6,7,8,9,10], "format": "d", "offset": -31, "title": null}},
           "y": {"field": "hi", "type": "quantitative", "scale": {"domain": [-0.5688, 0.9531], "nice": false, "zero": false}, "axis": {"values": [-0.4,-0.2,0,0.2,0.4,0.6,0.8], "offset": -79.7, "title": null, "labelExpr": "datum.value < 0 ? '-' + format(-datum.value, '.1f') : format(datum.value, '.1f')"}}
         }},
        {"data": {"name": "irf"}, "transform": [{"filter": "datum.p == 'debt'"}],
         "mark": {"type": "line", "color": "#23487A", "strokeWidth": 2.6, "strokeDash": [0.5, 4.6], "strokeCap": "round", "interpolate": "monotone"},
         "encoding": {
           "x": {"field": "h", "type": "quantitative", "scale": {"domain": [-2.274, 11.192], "nice": false, "zero": false}, "axis": {"values": [0,1,2,3,4,5,6,7,8,9,10], "format": "d", "offset": -31, "title": null}},
           "y": {"field": "lo", "type": "quantitative", "scale": {"domain": [-0.5688, 0.9531], "nice": false, "zero": false}, "axis": {"values": [-0.4,-0.2,0,0.2,0.4,0.6,0.8], "offset": -79.7, "title": null, "labelExpr": "datum.value < 0 ? '-' + format(-datum.value, '.1f') : format(datum.value, '.1f')"}}
         }},
        {"data": {"name": "irf"}, "transform": [{"filter": "datum.p == 'debt'"}],
         "mark": {"type": "line", "color": "#4A7EBB", "strokeWidth": 5, "point": {"shape": "diamond", "size": 60, "filled": true, "color": "#4A7EBB"}},
         "encoding": {
           "x": {"field": "h", "type": "quantitative", "scale": {"domain": [-2.274, 11.192], "nice": false, "zero": false}, "axis": {"values": [0,1,2,3,4,5,6,7,8,9,10], "format": "d", "offset": -31, "title": null}},
           "y": {"field": "resp", "type": "quantitative", "scale": {"domain": [-0.5688, 0.9531], "nice": false, "zero": false}, "axis": {"values": [-0.4,-0.2,0,0.2,0.4,0.6,0.8], "offset": -79.7, "title": null, "labelExpr": "datum.value < 0 ? '-' + format(-datum.value, '.1f') : format(datum.value, '.1f')"}}
         }}
      ]
    }
  ],
  "config": {
    "background": "white",
    "font": "Liberation Serif",
    "view": {"stroke": "black", "strokeWidth": 2},
    "axis": {
      "domain": false, "grid": false,
      "labelFont": "Liberation Serif", "labelFontSize": 20, "labelColor": "black",
      "labelFlush": false, "labelOverlap": false
    },
    "axisX": {"ticks": false, "tickSize": 0, "labelPadding": 0, "labelBaseline": "middle"},
    "axisY": {"ticks": true, "tickSize": 6, "tickColor": "black", "tickWidth": 1.5, "labelPadding": 18, "labelBaseline": "middle"},
    "title": {
      "font": "Liberation Serif", "fontSize": 29, "fontWeight": "bold", "color": "black",
      "anchor": "middle", "frame": "group"
    }
  }
}
